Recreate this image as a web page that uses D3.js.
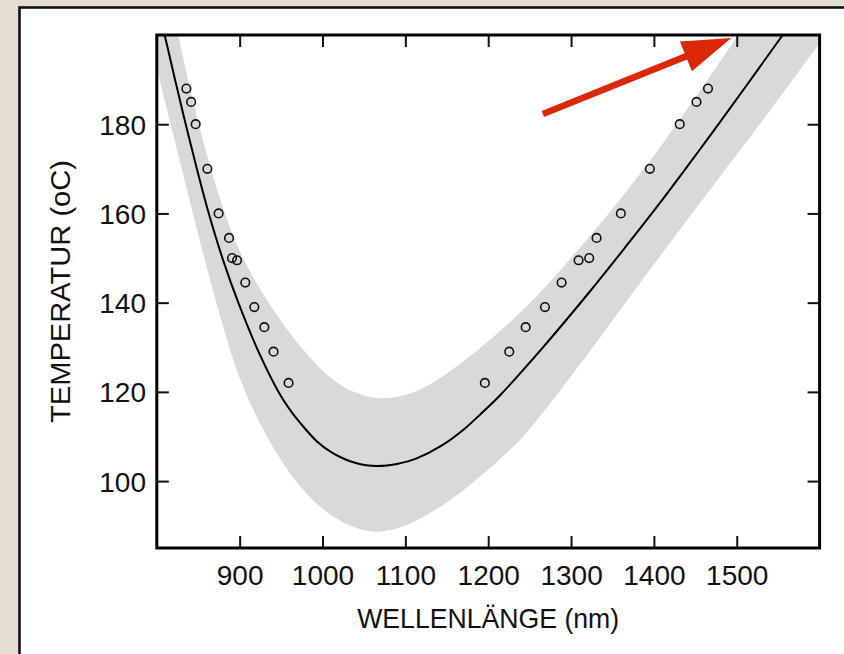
<!DOCTYPE html>
<html>
<head>
<meta charset="utf-8">
<script src="https://cdn.jsdelivr.net/npm/d3@7"></script>
<style>
  html, body { margin: 0; padding: 0; background: #e4ddd2; }
  svg { display: block; }
  text { font-family: "Liberation Sans", Arial, Helvetica, sans-serif; fill: #111; }
</style>
</head>
<body>
<svg id="chart" width="844" height="654"></svg>
<script>
// ---- data ----
const xTicks = [900, 1000, 1100, 1200, 1300, 1400, 1500];
const yTicks = [100, 120, 140, 160, 180];

// measured points (wavelength nm, temperature °C)
const measWavelength = [835.7, 841.4, 846.9, 861, 874.6, 887.2, 890.8, 896.8, 906.8, 917.7, 929.8, 940.9, 959,
                        1196, 1225.4, 1245.2, 1268.5, 1288.6, 1309.1, 1321.9, 1330.8, 1360.1, 1395.1, 1431.2, 1451.4, 1465.3];
const measTemp = [188, 185, 180, 170, 160, 154.5, 150, 149.5, 144.5, 139, 134.5, 129, 122,
                  122, 129, 134.5, 139, 144.5, 149.5, 150, 154.5, 160, 170, 180, 185, 188];

// fitted curve
const fitWavelength = [803.9, 809.9, 822.0, 834.9, 848.5, 861.8, 879.9, 899.2, 923.3, 946.6, 959.5, 972.8, 993.3, 1013.0, 1027.2, 1039.2, 1052.5, 1065.4,
                       1077.8, 1089.9, 1113.6, 1144.2, 1171.9, 1191.2, 1214.1, 1264.8, 1322.7, 1366.2, 1410.3, 1441.0, 1471.6, 1512.2, 1552.0, 1564.1];
const fitTemp = [203.7, 199.6, 190.0, 180.0, 169.9, 160.6, 149.6, 139.6, 128.8, 120.1, 116.3, 113.1, 108.9, 106.2, 104.9, 104.1, 103.56, 103.38,
                 103.49, 103.83, 105.1, 108.0, 111.8, 115.1, 119.2, 129.7, 142.5, 152.6, 163.1, 170.7, 178.4, 188.8, 199.1, 202.2];

// grey band: upper boundary
const bandUpperWl = [812, 826.4, 846.5, 868.6, 890.8, 918.9, 951, 983, 1013, 1040, 1066, 1095, 1130, 1190, 1250, 1295, 1351, 1411, 1455, 1500, 1512];
const bandUpperT  = [212, 199.6, 182.5, 167.5, 154.8, 144.4, 135.4, 127.8, 122.3, 119.6, 118.3, 118.8, 121.2, 129.5, 139.5, 148.9, 161, 175.5, 187.3, 199.5, 202.8];
// grey band: lower boundary
const bandLowerWl = [794, 802, 818.4, 838.5, 858.6, 878.7, 898.7, 933, 973, 1013, 1061.5, 1114, 1174, 1234, 1250, 1310, 1371, 1431, 1490, 1536, 1600, 1612];
const bandLowerT  = [197.5, 191, 178.7, 163.8, 148.9, 135.4, 122.7, 109.3, 98.1, 91.4, 87.5, 90.6, 98.1, 108.2, 111.5, 125.8, 141.4, 156.3, 170.8, 182, 198.1, 201.3];

// annotation arrow (start, tip) in data units
const arrowWl = [1266, 1493.5];
const arrowT = [182.3, 199.3];

const xTitle = "WELLENLÄNGE (nm)";
const yTitle = "TEMPERATUR (oC)";

// ---- layout ----
const svg = d3.select("#chart");
const L = 156.8, R = 819.6, T = 35, B = 548;
const x = d3.scaleLinear().domain([800, 1600]).range([L, R]);
const y = d3.scaleLinear().domain([85, 200]).range([B, T]);

// card
svg.append("rect").attr("x", 0).attr("y", 0).attr("width", 844).attr("height", 654).attr("fill", "#e4ddd2");
svg.append("rect").attr("x", 19.5).attr("y", 7.5).attr("width", 900).attr("height", 700)
   .attr("fill", "#fff").attr("stroke", "#111").attr("stroke-width", 2.6);

const defs = svg.append("defs");
defs.append("clipPath").attr("id", "plotclip")
  .append("rect").attr("x", L).attr("y", T).attr("width", R - L).attr("height", B - T);

const plot = svg.append("g").attr("clip-path", "url(#plotclip)");

// band polygon
const upperPts = bandUpperWl.map((w, i) => [w, bandUpperT[i]]);
const lowerPts = bandLowerWl.map((w, i) => [w, bandLowerT[i]]).reverse();
const bandLine = d3.line().x(d => x(d[0])).y(d => y(d[1])).curve(d3.curveBasis);
plot.append("path")
  .attr("d", bandLine(upperPts) + "L" + bandLine(lowerPts).slice(1) + "Z")
  .attr("fill", "#d9d9d9").attr("stroke", "none");

// fit line
const fitPts = fitWavelength.map((w, i) => [w, fitTemp[i]]);
plot.append("path")
  .attr("d", d3.line().x(d => x(d[0])).y(d => y(d[1])).curve(d3.curveCatmullRom.alpha(0.5))(fitPts))
  .attr("fill", "none").attr("stroke", "#000").attr("stroke-width", 2);

// measured points
plot.selectAll("circle.m").data(measWavelength.map((w, i) => [w, measTemp[i]]))
  .enter().append("circle")
  .attr("cx", d => x(d[0])).attr("cy", d => y(d[1])).attr("r", 4.3)
  .attr("fill", "none").attr("stroke", "#111").attr("stroke-width", 1.6);

// axes (ticks inward on all sides)
const tickLen = 12;
const gx = svg.append("g").attr("transform", `translate(0,${B})`)
  .call(d3.axisBottom(x).tickValues(xTicks).tickSize(-tickLen).tickFormat(d3.format("d")));
const gxTop = svg.append("g").attr("transform", `translate(0,${T})`)
  .call(d3.axisTop(x).tickValues(xTicks).tickSize(-tickLen).tickFormat(""));
const gy = svg.append("g").attr("transform", `translate(${L},0)`)
  .call(d3.axisLeft(y).tickValues(yTicks).tickSize(-tickLen).tickFormat(d3.format("d")));
const gyR = svg.append("g").attr("transform", `translate(${R},0)`)
  .call(d3.axisRight(y).tickValues(yTicks).tickSize(-tickLen).tickFormat(""));

[gx, gxTop, gy, gyR].forEach(g => {
  g.select(".domain").remove();
  g.selectAll(".tick line").attr("stroke", "#111").attr("stroke-width", 2);
  g.selectAll("text").attr("font-size", 28).attr("font-family", "Liberation Sans, Arial, sans-serif").attr("fill", "#111");
});
gx.selectAll(".tick text").attr("dy", 0).attr("y", 37);
gy.selectAll(".tick text").attr("dy", "0.36em").attr("x", -(L - 146));

// frame
svg.append("rect").attr("x", L).attr("y", T).attr("width", R - L).attr("height", B - T)
  .attr("fill", "none").attr("stroke", "#000").attr("stroke-width", 3);

// axis titles
svg.append("text").attr("x", (L + R) / 2).attr("y", 628)
  .attr("text-anchor", "middle").attr("font-size", 28)
  .attr("textLength", 262).attr("lengthAdjust", "spacingAndGlyphs")
  .text(xTitle);
svg.append("text").attr("transform", `translate(70,${(T + B) / 2}) rotate(-90)`)
  .attr("text-anchor", "middle").attr("font-size", 28)
  .attr("textLength", 263).attr("lengthAdjust", "spacingAndGlyphs")
  .text(yTitle);

// red arrow annotation
const x0 = x(arrowWl[0]), y0 = y(arrowT[0]), x1 = x(arrowWl[1]), y1 = y(arrowT[1]);
const ang = Math.atan2(y1 - y0, x1 - x0);
const len = Math.hypot(x1 - x0, y1 - y0);
const headLen = 49, headHalf = 16, shaftHalf = 3.3;
const arrowShape = [
  [0, -shaftHalf], [len - headLen, -shaftHalf], [len - headLen, -headHalf], [len, 0],
  [len - headLen, headHalf], [len - headLen, shaftHalf], [0, shaftHalf]
];
svg.append("path")
  .attr("d", d3.line()(arrowShape) + "Z")
  .attr("transform", `translate(${x0},${y0}) rotate(${ang * 180 / Math.PI})`)
  .attr("fill", "#dc2806");
</script>
</body>
</html>
